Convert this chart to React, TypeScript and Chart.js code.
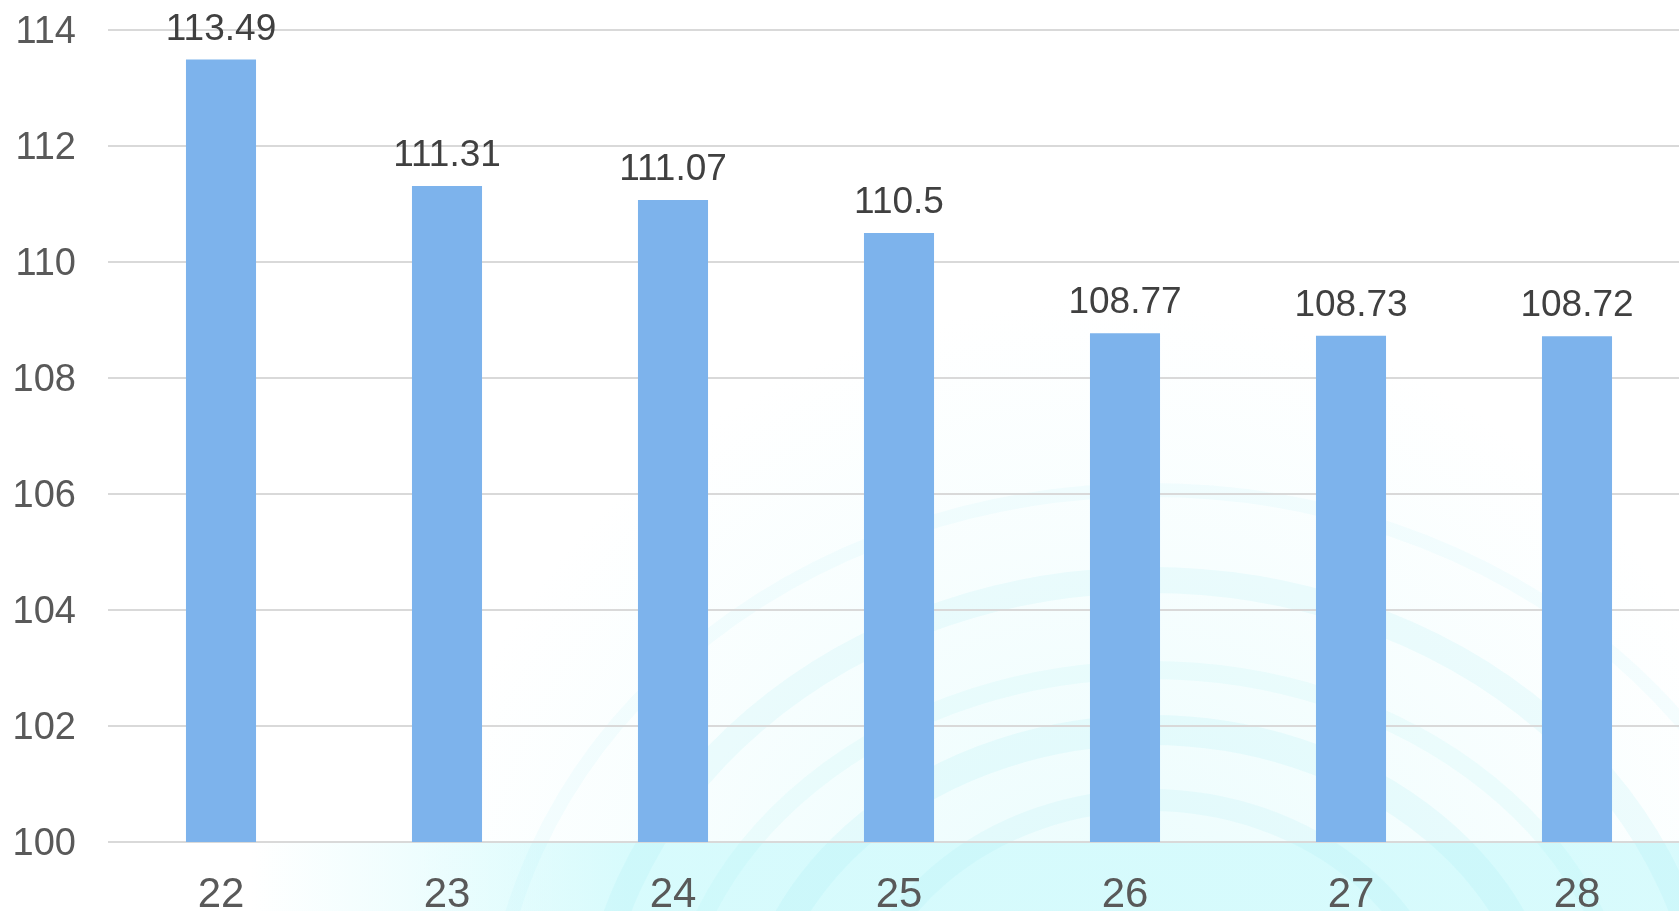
import React, { useEffect, useRef } from "react";
import { Chart, registerables } from "chart.js";

Chart.register(...registerables);

const categories: string[] = ["22", "23", "24", "25", "26", "27", "28"];
const values: number[] = [113.49, 111.31, 111.07, 110.5, 108.77, 108.73, 108.72];
const yMin = 100;
const yMax = 114;
const yStep = 2;

const FONT = "'Liberation Sans', Arial, sans-serif";

const backgroundPlugin = {
  id: "bgWatermark",
  beforeDraw(chart: any) {
    const { ctx, width, height, chartArea } = chart;
    ctx.save();
    ctx.fillStyle = "#ffffff";
    ctx.fillRect(0, 0, width, height);
    const rg = ctx.createRadialGradient(1100, 1000, 100, 1100, 1000, 700);
    rg.addColorStop(0, "rgba(200,248,250,0.35)");
    rg.addColorStop(1, "rgba(200,248,250,0)");
    ctx.fillStyle = rg;
    ctx.fillRect(0, 0, width, height);
    const g = ctx.createLinearGradient(250, 0, 1000, 0);
    g.addColorStop(0, "rgba(205,250,252,0)");
    g.addColorStop(0.5, "rgba(205,250,252,0.75)");
    g.addColorStop(1, "rgba(210,250,252,0.85)");
    ctx.fillStyle = g;
    ctx.fillRect(250, chartArea.bottom, width - 250, height - chartArea.bottom);
    const arcs = [
      { cx: 1150, cy: 1060, rx: 560, ry: 480, w: 26, a: 0.12 },
      { cx: 1150, cy: 1060, rx: 480, ry: 390, w: 18, a: 0.1 },
      { cx: 1150, cy: 1060, rx: 400, ry: 330, w: 30, a: 0.13 },
      { cx: 1150, cy: 1060, rx: 300, ry: 260, w: 22, a: 0.11 },
      { cx: 1150, cy: 1060, rx: 660, ry: 570, w: 14, a: 0.08 },
    ];
    ctx.beginPath();
    ctx.rect(0, 0, width, height);
    ctx.clip();
    for (const a of arcs) {
      ctx.beginPath();
      ctx.ellipse(a.cx, a.cy, a.rx, a.ry, 0, Math.PI, Math.PI * 2);
      ctx.strokeStyle = `rgba(140,232,240,${a.a})`;
      ctx.lineWidth = a.w;
      ctx.stroke();
    }
    ctx.restore();
  },
};

const labelPlugin = {
  id: "valueLabels",
  afterDatasetsDraw(chart: any) {
    const { ctx } = chart;
    const meta = chart.getDatasetMeta(0);
    ctx.save();
    ctx.font = `37px ${FONT}`;
    ctx.fillStyle = "#404040";
    ctx.textAlign = "center";
    ctx.textBaseline = "alphabetic";
    meta.data.forEach((bar: any, i: number) => {
      ctx.fillText(String(chart.data.datasets[0].data[i]), bar.x, bar.y - 20);
    });
    ctx.restore();
  },
};

export default function App() {
  const ref = useRef<HTMLCanvasElement | null>(null);

  useEffect(() => {
    if (!ref.current) return;
    const chart = new Chart(ref.current, {
      type: "bar",
      data: {
        labels: categories,
        datasets: [
          {
            data: values,
            backgroundColor: "#7DB3EC",
            borderWidth: 0,
            categoryPercentage: 0.31,
            barPercentage: 1,
          },
        ],
      },
      options: {
        responsive: false,
        animation: false,
        layout: { padding: { top: 30, left: 0, right: 0, bottom: 0 } },
        plugins: {
          legend: { display: false },
          tooltip: { enabled: false },
        },
        scales: {
          x: {
            offset: true,
            grid: { display: false, drawTicks: false },
            border: { display: false },
            ticks: {
              color: "#595959",
              font: { family: FONT, size: 42 },
              padding: 28,
              maxRotation: 0,
              autoSkip: false,
            },
            afterFit(scale: any) {
              scale.height = 69;
              scale.paddingLeft = 0;
              scale.paddingRight = 0;
            },
          },
          y: {
            min: yMin,
            max: yMax,
            grid: { color: "#D9D9D9", lineWidth: 2, drawTicks: false },
            border: { display: false },
            ticks: {
              stepSize: yStep,
              color: "#595959",
              font: { family: FONT, size: 38 },
              padding: 32,
              labelOffset: 3,
            },
            afterFit(scale: any) {
              scale.width = 108;
              scale.paddingTop = 0;
              scale.paddingBottom = 0;
            },
          },
        },
      },
      plugins: [backgroundPlugin, labelPlugin],
    });
    return () => chart.destroy();
  }, []);

  return (
    <div
      style={{
        position: "fixed",
        left: 0,
        top: 0,
        width: 1679,
        height: 911,
        overflow: "hidden",
        background: "#fff",
      }}
    >
      <canvas ref={ref} width={1690} height={911} style={{ display: "block" }} />
    </div>
  );
}
